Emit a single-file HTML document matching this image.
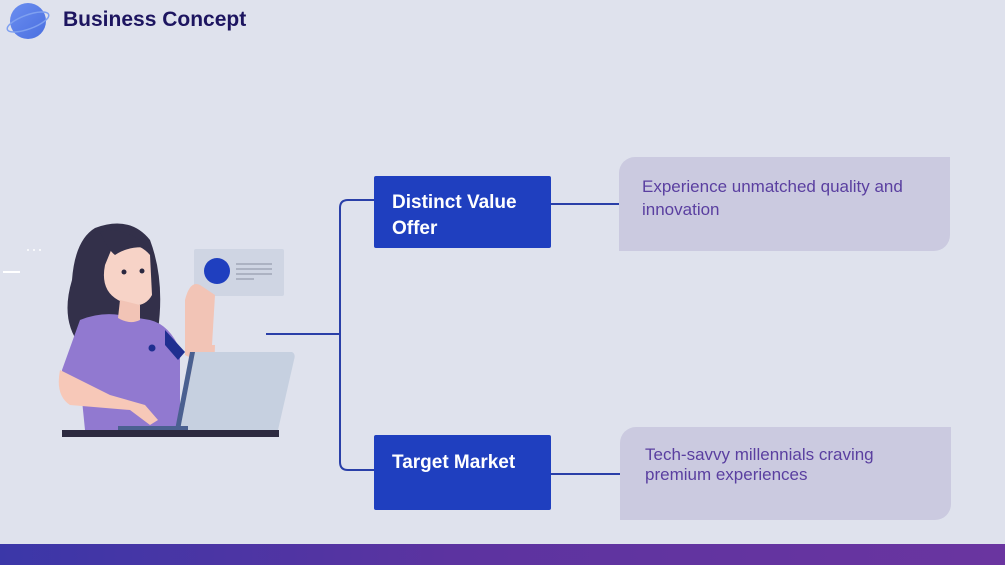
<!DOCTYPE html>
<html><head><meta charset="utf-8"><style>
html,body{margin:0;padding:0}
body{width:1005px;height:565px;overflow:hidden;background:#dfe2ed;position:relative;font-family:"Liberation Sans","DejaVu Sans",sans-serif}
.t{position:absolute;left:63px;top:8px;font-size:21px;font-weight:bold;color:#1d1560}
.bx{position:absolute;background:#1f3fbf;color:#fff;font-weight:bold;font-size:19px;line-height:26px;border-radius:2px;box-sizing:border-box;padding-left:18px}
.rb{position:absolute;background:#cbcae0;color:#5a3fa0;font-size:17px;line-height:23px;border-radius:16px 0 16px 0;box-sizing:border-box}
.bar{position:absolute;left:0;top:544px;width:1005px;height:21px;background:linear-gradient(90deg,#3b37a8,#5c33a0 45%,#6a35a0)}
</style></head><body>
<svg width="1005" height="565" style="position:absolute;left:0;top:0">
<defs><linearGradient id="g" x1="0" y1="0" x2="1" y2="1"><stop offset="0" stop-color="#6b8ef0"/><stop offset="1" stop-color="#4a6fe0"/></linearGradient></defs>
<circle cx="28" cy="21" r="18" fill="url(#g)"/>
<ellipse cx="28" cy="22" rx="22" ry="7" fill="none" stroke="#7fa0f0" stroke-width="1.5" transform="rotate(-20 28 22)"/>
<g fill="none" stroke="#2a3fa8" stroke-width="2">
<path d="M266 334 H340"/>
<path d="M374 200 H348 Q340 200 340 208 V462 Q340 470 348 470 H374"/>
<path d="M551 204 H619"/>
<path d="M551 474 H620"/>
</g>
<rect x="3" y="271" width="17" height="2" fill="#fff"/>
<circle cx="28" cy="250" r="1" fill="#fff"/><circle cx="34" cy="250" r="1" fill="#fff"/><circle cx="40" cy="250" r="1" fill="#fff"/>
<rect x="194" y="249" width="90" height="47" rx="2" fill="#cfd5e3"/>
<circle cx="217" cy="271" r="13" fill="#1f3fbf"/>
<g stroke="#8a90a0" stroke-width="1"><path d="M236 264H272M236 269H272M236 274H272M236 279H254"/></g>
<path d="M95 228 Q130 215 150 240 Q165 280 158 330 L170 345 L80 345 Q60 320 72 280 Q75 240 95 228Z" fill="#33304a"/>
<path d="M185 300 Q190 280 200 285 L215 295 L212 345 L195 360 L185 355Z" fill="#f2c4b6"/>
<path d="M190 345 L215 345 L213 400 L185 400Z" fill="#f2c4b6"/>
<path d="M80 320 Q100 312 120 315 L150 320 Q170 325 180 350 L180 430 L85 430 L80 380 Q62 385 62 370 Z" fill="#9179d0"/>
<path d="M165 330 L185 352 L178 360 L165 345Z" fill="#1f2f90"/>
<circle cx="152" cy="348" r="3.5" fill="#1f2f90"/>
<path d="M112 248 Q135 238 150 255 L152 295 Q145 308 128 305 L118 300 Q100 290 105 265Z" fill="#f7d3c7"/>
<path d="M120 300 L140 305 L140 320 Q130 325 118 318Z" fill="#f2c4b6"/>
<path d="M100 232 Q125 225 150 248 Q130 245 115 255 Q108 250 100 232Z" fill="#33304a"/>
<circle cx="124" cy="272" r="2.5" fill="#2a2840"/><circle cx="142" cy="271" r="2.5" fill="#2a2840"/>
<path d="M60 370 Q55 395 70 405 L130 410 L150 425 L158 420 L145 405 L110 395 L90 385 Z" fill="#f7c8b8"/>
<path d="M195 352 L292 352 Q296 354 294 360 L278 430 L180 430 Z" fill="#c6d0e0"/>
<path d="M195 352 L180 430 L175 430 L190 352Z" fill="#4a6090"/>
<rect x="118" y="426" width="70" height="4" fill="#4a6090"/>
<rect x="62" y="430" width="217" height="7" fill="#2d2a40"/>
</svg>
<div class="t">Business Concept</div>
<div class="bx" style="left:374px;top:176px;width:177px;height:72px;padding-top:14px">Distinct Value<br>Offer</div>
<div class="bx" style="left:374px;top:435px;width:177px;height:75px;padding-top:15px">Target Market</div>
<div class="rb" style="left:619px;top:157px;width:331px;height:94px;padding:18px 0 0 23px">Experience unmatched quality and<br>innovation</div>
<div class="rb" style="left:620px;top:427px;width:331px;height:93px;padding:18px 0 0 25px;line-height:20px">Tech-savvy millennials craving<br>premium experiences</div>
<div class="bar"></div>
</body></html>
